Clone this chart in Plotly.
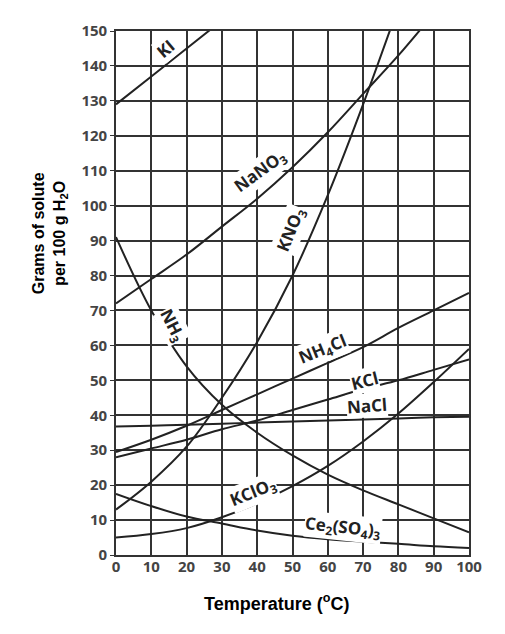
import plotly.graph_objects as go

# Solubility curves, grams of solute per 100 g H2O
temps = [0, 10, 20, 30, 40, 50, 60, 70, 80, 90, 100]

ki_t = [0, 10, 20, 30]
ki = [129, 137, 145, 153]

nano3_t = [0, 10, 20, 30, 40, 50, 60, 70, 80, 90]
nano3 = [72, 79, 86, 94, 102, 111, 121, 132, 143, 155]

kno3_t = [0, 10, 20, 30, 40, 50, 60, 70, 80]
kno3 = [13, 21, 31, 45, 61, 80, 103, 129, 157]

nh3 = [91, 70, 54, 43, 35, 28.5, 23, 18.5, 14.5, 10.5, 6.5]
nh4cl = [29.5, 33, 37, 41.5, 46, 50.5, 55, 59.5, 65, 70, 75]
kcl = [28, 30.5, 33, 36, 38.5, 41.5, 44.5, 47.5, 50, 53, 56]
nacl = [36.8, 37.0, 37.3, 37.6, 37.9, 38.2, 38.5, 38.8, 39.1, 39.4, 39.6]
kclo3 = [5, 6, 7.7, 10.8, 14.8, 19.7, 25.5, 32.5, 40.5, 49.5, 59]
ce2so43 = [17.5, 14, 11, 9, 7, 5.5, 4.5, 3.8, 3.2, 2.5, 2]

series = [
    (ki_t, ki),
    (nano3_t, nano3),
    (kno3_t, kno3),
    (temps, nh3),
    (temps, nh4cl),
    (temps, kcl),
    (temps, nacl),
    (temps, kclo3),
    (temps, ce2so43),
]

# curve labels: text, x, y, angle
labels = [
    ("KI", 14.0, 145.0, -40),
    ("NaNO<sub>3</sub>", 40.8, 109.8, -36),
    ("KNO<sub>3</sub>", 49.6, 93.2, -68),
    ("NH<sub>3</sub>", 15.9, 65.6, 63),
    ("NH<sub>4</sub>Cl", 58.6, 58.7, -22),
    ("KCl", 70.5, 49.9, -14),
    ("NaCl", 71.1, 42.8, -4),
    ("KClO<sub>3</sub>", 38.8, 18, -22),
    ("Ce<sub>2</sub>(SO<sub>4</sub>)<sub>3</sub>", 64.3, 8, 6),
]

x_title = "Temperature (<sup>o</sup>C)"
y_title = "Grams of solute<br>per 100 g H<sub>2</sub>O"

fig = go.Figure()

for xs, ys in series:
    fig.add_trace(
        go.Scatter(
            x=xs,
            y=ys,
            mode="lines",
            line=dict(color="#222222", width=2, shape="spline", smoothing=1),
            showlegend=False,
            hoverinfo="skip",
        )
    )

for text, x, y, ang in labels:
    fig.add_annotation(
        x=x,
        y=y,
        text=text,
        textangle=ang,
        showarrow=False,
        bgcolor="white",
        borderpad=0,
        font=dict(family="Open Sans", size=17, color="#222222", weight="bold"),
    )

# axis titles sit off-centre in the original, so they are placed by hand
fig.add_annotation(
    x=0.456, y=-0.091, xref="paper", yref="paper",
    xanchor="center", yanchor="middle",
    text=x_title, showarrow=False,
    font=dict(family="Liberation Sans", size=18, color="black", weight="bold"),
)
fig.add_annotation(
    x=-0.187, y=0.614, xref="paper", yref="paper",
    xanchor="center", yanchor="middle",
    text=y_title, textangle=-90, showarrow=False,
    font=dict(family="Liberation Sans", size=16, color="black", weight="bold"),
)

axis_style = dict(
    showgrid=True,
    gridcolor="#333333",
    gridwidth=1.6,
    showline=True,
    linecolor="#333333",
    linewidth=1.6,
    mirror=True,
    zeroline=False,
    tickfont=dict(family="Open Sans", size=15, color="#444444", weight="bold"),
)

# page body adds an 8 px offset, so the figure is 8 px smaller than the window
fig.update_layout(
    width=497,
    height=626,
    margin=dict(l=108, r=36, t=21, b=79),
    paper_bgcolor="white",
    plot_bgcolor="white",
    xaxis=dict(range=[0, 100], tick0=0, dtick=10, ticks="", ticklabelstandoff=-3, **axis_style),
    yaxis=dict(
        range=[0, 150], tick0=0, dtick=10,
        ticks="outside", ticklen=4, tickcolor="#333333",
        **axis_style,
    ),
)

fig.write_html("out.html")
